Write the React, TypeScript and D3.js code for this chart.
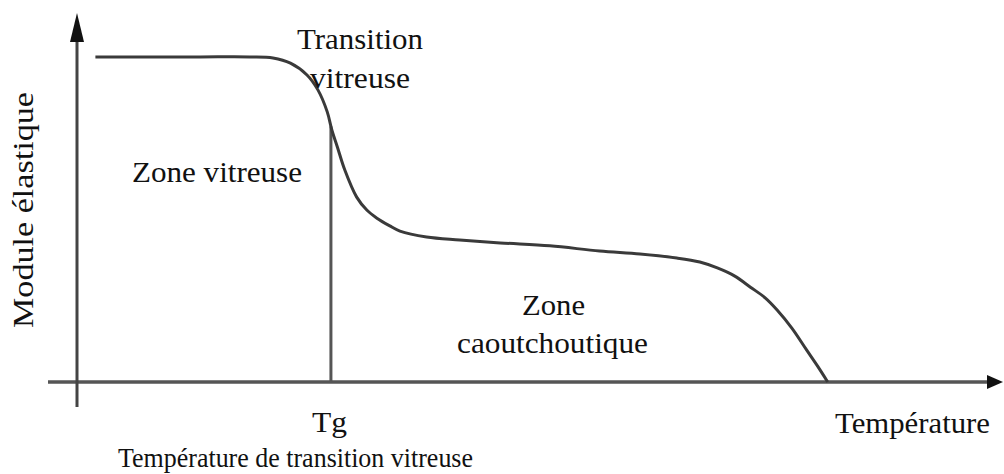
import * as React from "react"
import * as d3 from "d3"

// courbe module élastique / température (unités arbitraires 0..100)
const temperature = [
  2.0, 7.9, 13.4, 18.8, 21.3, 23.2, 25.0, 26.2, 27.2, 27.7, 28.3, 29.1, 30.4,
  31.5, 32.6, 34.0, 35.1, 38.0, 41.6, 46.0, 51.4, 56.8, 61.2, 65.2, 67.7, 69.6,
  71.5, 73.2, 74.8, 76.1, 77.7, 79.3, 80.5, 81.6,
]
const modulus = [
  88.1, 88.1, 88.1, 88.1, 87.8, 86.4, 83.2, 79.1, 73.2, 68.3, 63.7, 57.5, 50.1,
  46.6, 44.4, 42.3, 40.9, 39.3, 38.5, 37.7, 36.9, 35.5, 34.7, 33.6, 32.5, 30.9,
  28.7, 25.7, 22.8, 19.5, 14.6, 8.7, 4.3, 0,
]
const tg = 27.6

const labels = {
  yTitle: "Module élastique",
  xTitle: "Température",
  tg: "Tg",
  tgTitle: "Température de transition vitreuse",
  transition: ["Transition", "vitreuse"],
  glassy: "Zone vitreuse",
  rubbery: ["Zone", "caoutchoutique"],
}

const width = 1004
const height = 474
const font = "'Liberation Serif', 'Times New Roman', serif"

function render(svgRef: React.RefObject<SVGSVGElement>) {
  const svg = d3.select(svgRef.current)
  svg.selectAll("*").remove()

  const x = d3.scaleLinear().domain([0, 100]).range([77, 997])
  const y = d3.scaleLinear().domain([0, 100]).range([382, 13])

  const g = svg.append("g")

  // axes
  g.append("line")
    .attr("x1", 48)
    .attr("x2", x(100) - 8)
    .attr("y1", y(0))
    .attr("y2", y(0))
    .attr("stroke", "#555")
    .attr("stroke-width", 3.5)
  g.append("path")
    .attr(
      "d",
      `M${x(100) + 6},${y(0)} L${x(100) - 10},${y(0) - 7} L${x(100) - 10},${y(0) + 7} Z`
    )
    .attr("fill", "#111")

  g.append("line")
    .attr("x1", x(0))
    .attr("x2", x(0))
    .attr("y1", 407)
    .attr("y2", y(100) + 20)
    .attr("stroke", "#444")
    .attr("stroke-width", 3)
  g.append("path")
    .attr(
      "d",
      `M${x(0)},${y(100)} L${x(0) - 7},${y(100) + 29} L${x(0) + 7},${y(100) + 29} Z`
    )
    .attr("fill", "#111")

  // ligne verticale Tg
  const i = d3.bisector((d: number) => d).left(temperature, tg)
  const t = (tg - temperature[i - 1]) / (temperature[i] - temperature[i - 1])
  const eTg = modulus[i - 1] + t * (modulus[i] - modulus[i - 1])
  g.append("line")
    .attr("x1", x(tg))
    .attr("x2", x(tg))
    .attr("y1", y(0))
    .attr("y2", y(eTg))
    .attr("stroke", "#555")
    .attr("stroke-width", 3)

  // courbe
  const line = d3
    .line<number>()
    .x((d) => x(d))
    .y((_d, k) => y(modulus[k]))
    .curve(d3.curveCatmullRom.alpha(0.5))
  g.append("path")
    .attr("d", line(temperature))
    .attr("fill", "none")
    .attr("stroke", "#3a3a3a")
    .attr("stroke-width", 3)

  const text = (
    s: string,
    px: number,
    py: number,
    len: number,
    size = 30
  ) =>
    g
      .append("text")
      .attr("x", px)
      .attr("y", py)
      .attr("font-family", font)
      .attr("font-size", size)
      .attr("fill", "#111")
      .attr("textLength", len)
      .attr("lengthAdjust", "spacingAndGlyphs")
      .text(s)

  text(labels.transition[0], 297, 49, 126)
  text(labels.transition[1], 310, 88, 100)
  text(labels.glassy, 132, 182, 170)
  text(labels.rubbery[0], 522, 315, 63)
  text(labels.rubbery[1], 457, 353, 191)
  text(labels.tg, 312, 432, 35)
  text(labels.xTitle, 835, 433, 155)
  text(labels.tgTitle, 118, 467, 355, 28)

  text(labels.yTitle, 0, 0, 236).attr(
    "transform",
    "translate(33,328) rotate(-90)"
  )
}

export default function App() {
  const ref = React.useRef<SVGSVGElement>(null)

  React.useEffect(() => {
    render(ref)
  }, [])

  return (
    <svg
      ref={ref}
      width={width}
      height={height}
      style={{ position: "absolute", left: 0, top: 0, background: "#fff" }}
    />
  )
}
